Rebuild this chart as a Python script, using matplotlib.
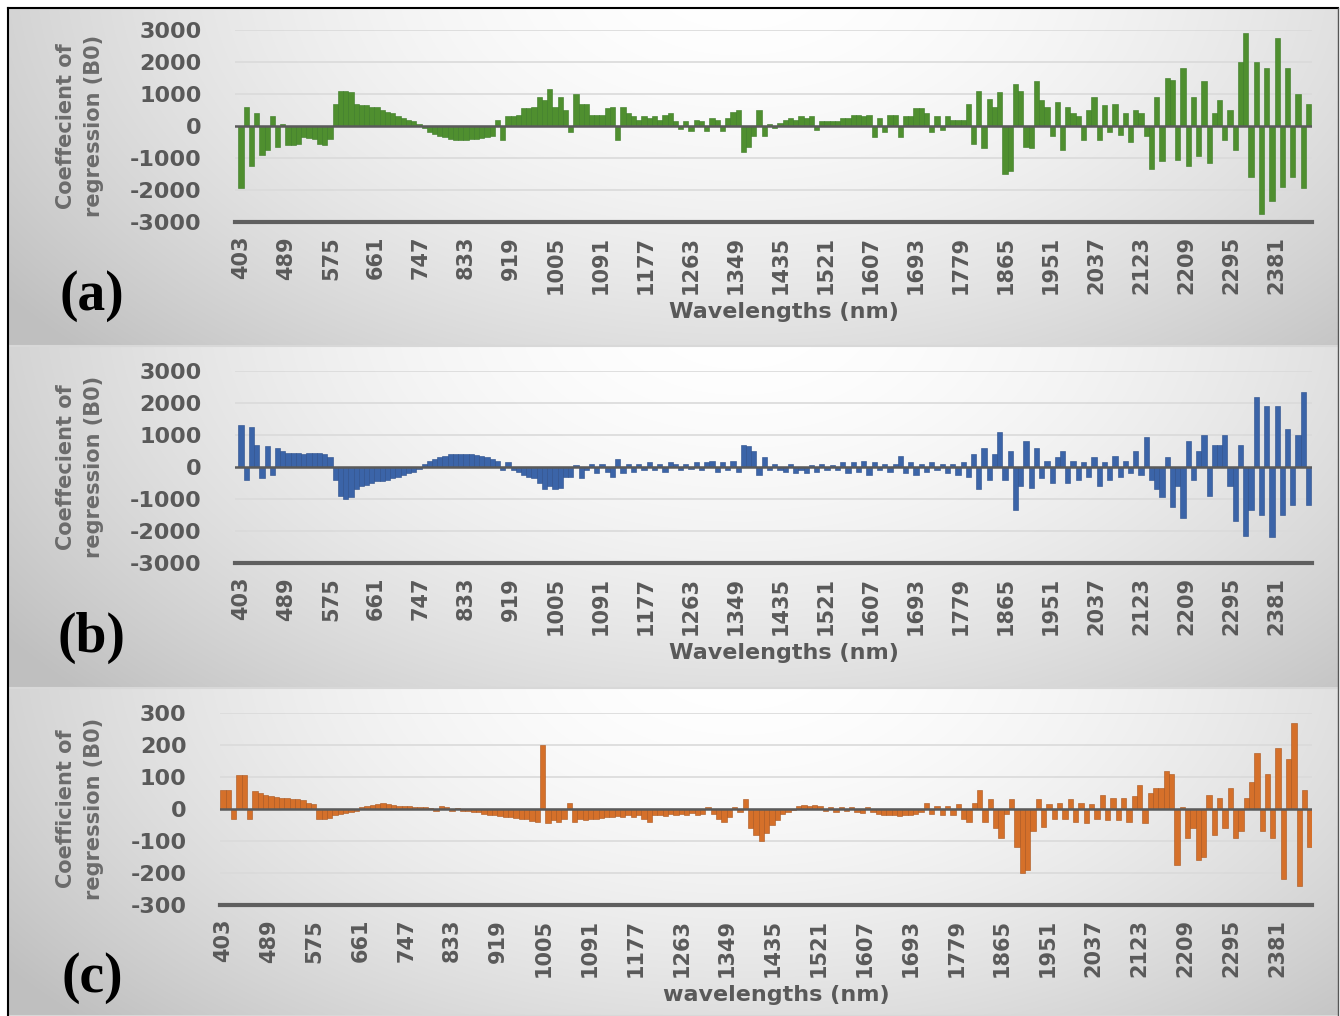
import numpy as np
import matplotlib
matplotlib.use("Agg")
import matplotlib.pyplot as plt

# regression coefficients, one bar every 10 nm starting at 403 nm
green_vals = [
    -1950, 600, -1250, 400, -900, -750, 300, -650, 50, -600,
    -600, -550, -350, -380, -420, -550, -600, -400, 700, 1100,
    1100, 1050, 700, 650, 650, 600, 600, 500, 450, 400,
    300, 250, 200, 150, 50, -50, -200, -250, -300, -350,
    -400, -450, -450, -450, -420, -400, -380, -350, -320, 200,
    -450, 300, 300, 350, 550, 550, 600, 900, 800, 1150,
    600, 900, 500, -180, 1000, 700, 700, 350, 350, 350,
    550, 600, -450, 600, 400, 300, 200, 300, 250, 300,
    200, 350, 400, 150, -100, 150, -150, 200, 150, -150,
    250, 200, -150, 250, 450, 500, -800, -650, -300, 500,
    -300, 50, -50, 100, 200, 250, 200, 300, 250, 300,
    -130, 150, 150, 150, 150, 250, 250, 350, 350, 300,
    350, -350, 250, -200, 350, 350, -350, 300, 300, 550,
    550, 400, -180, 300, -130, 300, 200, 200, 200, 700,
    -550, 1100, -700, 850, 600, 1050, -1500, -1400, 1300, 1100,
    -650, -700, 1400, 800, 600, -300, 750, -750, 600, 400,
    300, -450, 500, 900, -450, 650, -200, 700, -280, 400,
    -500, 500, 400, -300, -1350, 900, -1100, 1500, 1450, -1050,
    1800, -1250, 900, -950, 1400, -1150, 400, 800, -450, 500,
    -750, 2000, 2900, -1600, 2000, -2750, 1800, -2350, 2750, -1900,
    1800, -1600, 1000, -1950, 700,
]

blue_vals = [
    1300, -400, 1250, 700, -350, 650, -250, 600, 500, 450,
    450, 450, 400, 450, 450, 450, 400, 300, -400, -900,
    -1000, -950, -700, -600, -550, -500, -450, -450, -400, -350,
    -300, -250, -200, -150, -50, 100, 200, 250, 300, 350,
    400, 400, 420, 420, 400, 380, 350, 300, 250, 200,
    -100, 150, -100, -150, -250, -300, -350, -500, -700, -600,
    -700, -650, -300, -300, 50, -350, -100, 100, -200, 100,
    -150, -300, 250, -200, 100, -150, 100, -100, 150, -100,
    100, -150, 150, 100, -100, 100, -50, 150, -100, 150,
    200, -150, 150, -100, 200, -150, 700, 650, 500, -250,
    300, -100, 100, -100, -150, 100, -200, -100, -200, 50,
    -150, 100, -100, 50, -100, 150, -200, 150, -150, 200,
    -250, 150, -100, 100, -150, 100, 350, -200, 150, -250,
    100, -150, 150, -100, 100, -200, 100, -250, 150, -300,
    400, -700, 600, -400, 400, 1100, -400, 500, -1350, -600,
    800, -650, 600, -350, 200, -500, 300, 500, -500, 200,
    -400, 150, -300, 300, -600, 150, -400, 350, -300, 200,
    -200, 500, -250, 950, -400, -700, -950, 300, -1250, -600,
    -1600, 800, -400, 500, 1000, -900, 700, 700, 1000, -600,
    -1700, 700, -2150, -1350, 2200, -1500, 1900, -2200, 1900, -1500,
    1200, -1200, 1000, 2350, -1200,
]

orange_vals = [
    60, 60, -30, 105, 105, -30, 55, 50, 45, 40,
    38, 35, 35, 32, 30, 28, 20, 15, -30, -30,
    -28, -20, -15, -12, -8, -5, 5, 8, 12, 15,
    18, 15, 12, 10, 10, 8, 6, 5, 5, 4,
    -5, 8, 6, -6, 4, -5, -6, -8, -10, -15,
    -18, -20, -22, -24, -25, -28, -30, -32, -38, -40,
    200, -45, -35, -40, -30, 20, -40, -30, -35, -30,
    -30, -28, -25, -25, -22, -25, -20, -25, -20, -30,
    -40, -20, -18, -22, -15, -20, -15, -18, -12, -20,
    -15, 5, -15, -30, -40, -25, 5, -10, 30, -60,
    -80, -100, -75, -50, -35, -15, -8, -3, 10, 12,
    10, 12, 8, -5, 5, -8, 5, -5, 6, -10,
    -12, 5, -10, -15, -18, -20, -20, -22, -20, -18,
    -15, -10, 20, -15, 10, -18, 8, -20, 15, -30,
    -40, 20, 60, -40, 30, -60, -90, -15, 30, -120,
    -200, -190, -70, 30, -55, 15, -30, 20, -30, 30,
    -40, 20, -45, 15, -30, 45, -35, 35, -35, 35,
    -40, 40, 75, -45, 50, 65, 65, 120, 110, -175,
    5, -90, -60, -160, -150, 45, -80, 35, -60, 65,
    -90, -70, 35, 85, 175, -70, 110, -90, 190, -220,
    155, 270, -240, 60, -120,
]

tick_wl = [403, 489, 575, 661, 747, 833, 919, 1005, 1091, 1177, 1263, 1349,
           1435, 1521, 1607, 1693, 1779, 1865, 1951, 2037, 2123, 2209, 2295, 2381]

W, H = 1340, 1016
fig = plt.figure(figsize=(W / 100, H / 100), dpi=100)
fig.patch.set_facecolor('white')

# background panels with soft gradient
bg = fig.add_axes([0, 0, 1, 1])
bg.set_xlim(0, W)
bg.set_ylim(H, 0)
bg.axis('off')
panels_px = [(8, 346), (347, 688), (689, 1016)]
for top, bot in panels_px:
    u = np.linspace(0, 1, 300)[None, :]
    v = np.linspace(0, 1, 120)[:, None]
    d = np.sqrt(((u - 0.55) / 0.55) ** 2 + ((v + 0.1) / 1.3) ** 2)
    g = 1 - 0.25 * np.clip(d, 0, 1.25) ** 1.8 / 1.25 ** 1.8
    img = np.dstack([g, g, g])
    bg.imshow(img, extent=(9, 1338, bot, top), aspect='auto', interpolation='bilinear')
    bg.plot([9, 1338], [bot, bot], color='#d8d8d8', lw=1.5)
bg.plot([8, 1338], [8, 8], color='black', lw=1.5)
bg.plot([8, 8], [8, H], color='black', lw=1.5)
bg.plot([1338, 1338], [8, H], color='#555555', lw=1.0)

specs = [
    dict(vals=green_vals, color='#4f8f2f', edge='#3a7a24', lim=3000, step=1000,
         x0=235, x1=1312, ytop=30, ybot=222, wl0=391.5, wl1=2449.6,
         ylab='Coeffecient of\nregression (B0)', xlab='Wavelengths (nm)', tag='(a)', tagy=296),
    dict(vals=blue_vals, color='#3b64a8', edge='#2a4d8a', lim=3000, step=1000,
         x0=235, x1=1312, ytop=371, ybot=563, wl0=391.5, wl1=2449.6,
         ylab='Coeffecient of\nregression (B0)', xlab='Wavelengths (nm)', tag='(b)', tagy=638),
    dict(vals=orange_vals, color='#d5702a', edge='#a9541c', lim=300, step=100,
         x0=220, x1=1312, ytop=713, ybot=905, wl0=397.4, wl1=2446.5,
         ylab='Coefficient of\nregression (B0)', xlab='wavelengths (nm)', tag='(c)', tagy=978),
]

tick_color = '#595959'
for s in specs:
    ax = fig.add_axes([s['x0'] / W, 1 - s['ybot'] / H,
                       (s['x1'] - s['x0']) / W, (s['ybot'] - s['ytop']) / H])
    ax.patch.set_alpha(0)
    vals = np.array(s['vals'])
    wl = 403 + 10 * np.arange(len(vals))
    lim = s['lim']
    for yv in np.arange(-lim + s['step'], lim + 1, s['step']):
        ax.axhline(yv, color='#dadada', lw=1.2, zorder=0)
    ax.bar(wl, vals, width=10, color=s['color'], edgecolor=s['edge'],
           linewidth=0.4, zorder=2)
    ax.axhline(0, color='#5a5a5a', lw=1.8, zorder=3)
    ax.axhline(-lim, color='#5f5f5f', lw=3, zorder=3, clip_on=False)
    ax.set_xlim(s['wl0'], s['wl1'])
    ax.set_ylim(-lim, lim)
    for sp in ax.spines.values():
        sp.set_visible(False)
    ax.set_yticks(np.arange(-lim, lim + 1, s['step']))
    ax.set_yticklabels([str(t) for t in np.arange(-lim, lim + 1, s['step'])])
    ax.set_xticks(tick_wl)
    ax.set_xticklabels([str(t) for t in tick_wl], rotation=90)
    ax.tick_params(axis='both', length=0, colors=tick_color)
    ax.tick_params(axis='y', labelsize=16, pad=24)
    ax.tick_params(axis='x', labelsize=15, pad=10)
    for lab in ax.get_xticklabels() + ax.get_yticklabels():
        lab.set_fontweight('bold')
    xm = (s['x0'] + s['x1']) / 2 + 10
    fig.text(xm / W, 1 - (s['ybot'] + 90) / H, s['xlab'], ha='center', va='center',
             fontsize=16, fontweight='bold', color=tick_color)
    fig.text(80 / W, 1 - ((s['ytop'] + s['ybot']) / 2) / H, s['ylab'], rotation=90,
             ha='center', va='center', fontsize=15, fontweight='bold', color='#6b6b6b',
             linespacing=1.55)
    fig.text(92 / W, 1 - s['tagy'] / H, s['tag'], ha='center', va='center',
             fontsize=40, fontweight='bold', family='Liberation Serif', color='black')

fig.savefig('out.png', dpi=100)
